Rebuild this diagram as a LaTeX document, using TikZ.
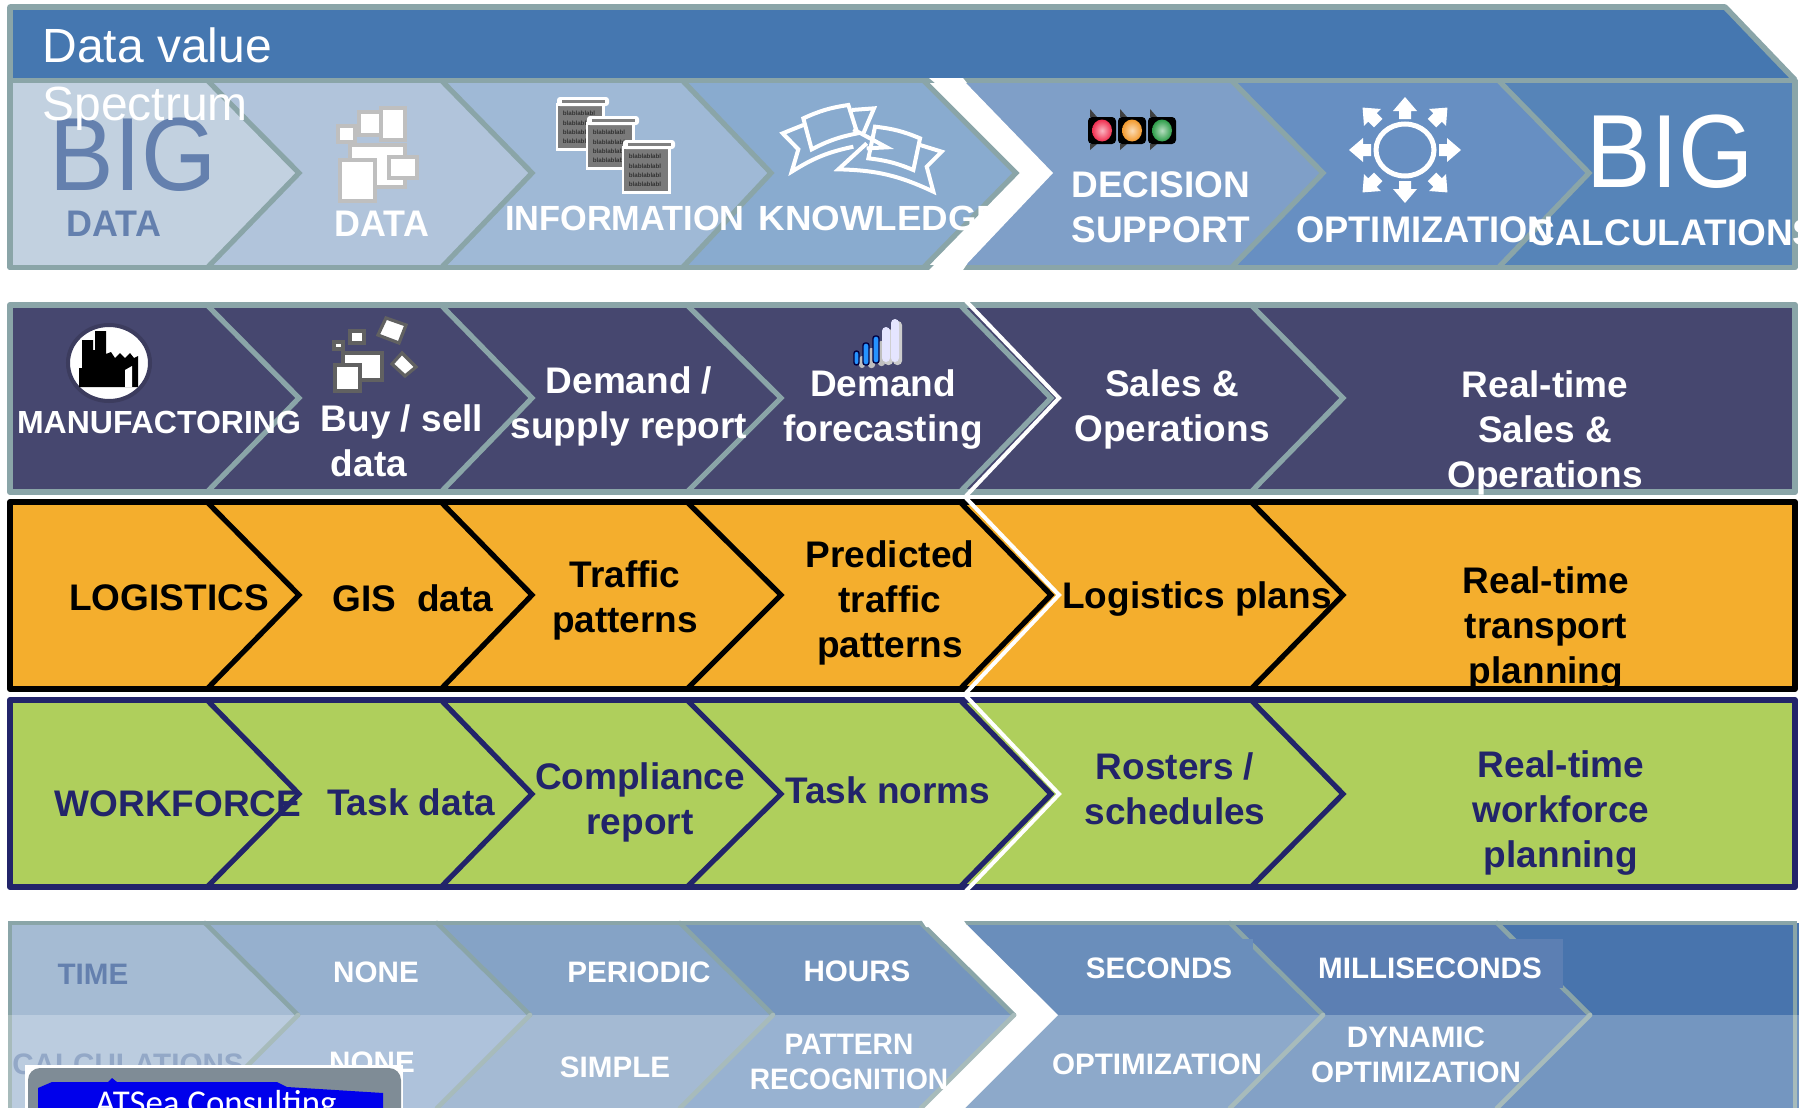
\documentclass[tikz,border=0pt]{standalone}
\usepackage{fontspec}
\setmainfont{Liberation Sans}
\newfontfamily\carlitofont{Carlito}
\definecolor{edgeA}{HTML}{8AA5A8}
\definecolor{edgeB}{HTML}{A7BBBB}
\definecolor{topblue}{HTML}{4577B0}
\definecolor{rA}{HTML}{C2D1E0}\definecolor{rB}{HTML}{B1C4DB}\definecolor{rC}{HTML}{9FB9D6}
\definecolor{rD}{HTML}{89ABCF}\definecolor{rE}{HTML}{7F9FC8}\definecolor{rF}{HTML}{678FC2}\definecolor{rG}{HTML}{5684B8}
\definecolor{uA}{HTML}{A5BBD3}\definecolor{uB}{HTML}{96B0CE}\definecolor{uC}{HTML}{85A3C6}
\definecolor{uD}{HTML}{7495BE}\definecolor{uE}{HTML}{6A8EBB}\definecolor{uF}{HTML}{5C7FB3}\definecolor{uG}{HTML}{4874AD}
\definecolor{lA}{HTML}{BBCCDF}\definecolor{lB}{HTML}{AEC2DB}\definecolor{lC}{HTML}{A4BAD3}
\definecolor{lD}{HTML}{98B2D1}\definecolor{lE}{HTML}{8DA9CA}\definecolor{lF}{HTML}{83A1C6}\definecolor{lG}{HTML}{7496C0}
\definecolor{navy}{HTML}{46476F}
\definecolor{amber}{HTML}{F4AE2D}
\definecolor{leaf}{HTML}{AFCF5C}
\definecolor{ink}{HTML}{22246A}
\definecolor{steel}{HTML}{6480AE}
\definecolor{paleTxt}{HTML}{93A8C7}
\definecolor{logoGrey}{HTML}{7F8C96}
\newcommand\sx[2]{\scalebox{#1}[1]{\begin{tabular}{@{}c@{}}#2\end{tabular}}}
% row: top mid bottom, one colour, border
\newcommand\plainrow[5]{%
  \fill[#4] (10,#1) rectangle (1795,#3);
  \foreach \T/\P in {207/299,441/532,687/781,960/1051,1251/1343}{\draw[line width=2.6pt,#5,line join=miter] (\T,#1) -- (\P,#2) -- (\T,#3);}
  \draw[line width=3pt,#5,line join=round] (10,#1) rectangle (1795,#3);
  \draw[line width=2pt,white] (966,#1-4) -- (1059,#2) -- (966,#3+4);
}
\newcommand\scrollicon[2]{%
  \begin{scope}[shift={(#1,#2)}]
    \fill[white] (-2,4) rectangle (47,52);
    \fill[black!52] (0,7) rectangle (44,49);
    \fill[white,rounded corners=1.5pt] (-1,-2) rectangle (51,7);
    \fill[black!50] (4,1) rectangle (47,4);
    \foreach \i/\yy in {1/14,2/24,3/33,4/42}
      \node[tinytext] (s#1-\i) at (21,\yy) {blablablabl};
  \end{scope}
}
\tikzset{
  lbl/.style={inner sep=0pt,yshift=-2.2pt},
  bq/.style={lbl,font=\bfseries\fontsize{18.5}{22.5}\selectfont},
  bm/.style={lbl,font=\bfseries\fontsize{17.5}{22.5}\selectfont},
  bs/.style={lbl,font=\bfseries\fontsize{14.8}{17.5}\selectfont},
  bigtxt/.style={lbl,font=\fontsize{52}{58}\selectfont},
  tinytext/.style={inner sep=0pt,text=black!80,font=\bfseries\fontsize{3.1}{3.5}\selectfont},
  gicon/.style={fill=white,draw=#1,line width=1.9pt},
  bannerln/.style={draw=white,line width=2pt,line join=miter},
}
\begin{document}
\begin{tikzpicture}[x=0.5pt,y=-0.5pt]
\useasboundingbox (0,0) rectangle (1799,1108);
\fill[white] (0,0) rectangle (1799,1108);
%%% ---------- top band and spectrum row
\fill[topblue] (10,7) -- (1725,7) -- (1795,80) -- (10,80) -- cycle;
\draw[line width=2.8pt,edgeA,line join=round] (10,80) -- (10,7) -- (1725,7) -- (1795,80);
\fill[rG] (10,80) rectangle (1795,268);
\foreach \T/\P/\c in {1498/1589/rF,1231/1323/rE}{\fill[\c] (10,80) -- (\T,80) -- (\P,173) -- (\T,268) -- (10,268) -- cycle;}
\fill[rE] (10,80) -- (966,80) -- (1055,173) -- (966,268) -- (10,268) -- cycle;
\fill[white] (10,80) -- (963,80) -- (1053,173) -- (963,268) -- (10,268) -- cycle;
\foreach \T/\P/\c in {923/1016/rD,682/771/rC,441/532/rB,207/299/rA}{\fill[\c] (10,80) -- (\T,80) -- (\P,173) -- (\T,268) -- (10,268) -- cycle;}
\foreach \T/\P in {207/299,441/532,682/771,923/1016,1231/1323,1498/1589}{\draw[line width=2.6pt,edgeA,line join=miter] (\T,80) -- (\P,173) -- (\T,268);}
\draw[line width=2.8pt,edgeA,line join=round] (10,80.5) rectangle (1795,267.5);
\fill[white] (929,78) -- (963,78) -- (967,83) -- (935,83) -- cycle;
\fill[white] (929,270) -- (963,270) -- (967,264) -- (935,264) -- cycle;
%%% icons, row 1
\draw[gicon=black!25] (381,108) rectangle (405,140);
\draw[gicon=black!25] (359,112) rectangle (381,135);
\draw[gicon=black!25] (338,126) rectangle (355,142);
\draw[gicon=black!25] (350,145) rectangle (405,187);
\draw[gicon=black!25] (389,157) rectangle (417,178);
\draw[gicon=black!25] (340,160) rectangle (375,201);
\scrollicon{558}{99}
\scrollicon{588}{118}
\scrollicon{624}{142}
% knowledge banners
\begin{scope}[shift={(770,90)},x=0.1667pt,y=-0.1667pt]
  \path[bannerln] (100,85) to[bend left=8] (235,45) -- (262,130) to[bend right=8] (125,178) -- cycle;
  \path[bannerln] (100,105) -- (38,130) -- (85,178) -- (65,245) to[bend left=10] (250,170);
  \path[bannerln] (245,60) -- (312,55) -- (280,130);
  \path[bannerln] (315,110) to[bend left=8] (450,145) -- (430,240) to[bend right=8] (295,205) -- cycle;
  \path[bannerln] (250,118) -- (350,172) -- (290,175);
  \path[bannerln] (290,160) -- (205,238) to[bend left=12] (490,305) -- (470,230) -- (515,185) -- (450,165);
\end{scope}
% traffic lights
\foreach \xx/\cc [count=\k] in {1088/F02F50,1118/F39A2D,1148/2E9E4A}{
  \definecolor{lampc}{HTML}{\cc}
  \fill[black!75] (\xx+2,117) -- (\xx+2,109) -- (\xx+9,117) -- cycle;
  \fill[black!75] (\xx+2,144) -- (\xx+2,150) -- (\xx+9,144) -- cycle;
  \fill[black,rounded corners=2pt] (\xx,117) rectangle (\xx+28,144);
  \shade[inner color=lampc!35!white,outer color=lampc] (\xx+14,130.5) ellipse [x radius=10,y radius=11];
}
% gear
\draw[white,line width=2.5pt] (1405,150) ellipse [x radius=29,y radius=26];
\foreach \a/\r in {0/56,90/53,180/56,270/53,45/60,135/60,225/60,315/60}{
  \begin{scope}[shift={(1405,150)},rotate=\a]
    \fill[white] (\r,0) -- (\r-14,12) -- (\r-14,6) -- (\r-22,6) -- (\r-22,-6) -- (\r-14,-6) -- (\r-14,-12) -- cycle;
  \end{scope}
}
%%% ---------- plain rows
\plainrow{305}{398}{492}{navy}{edgeA}
\plainrow{502}{595}{689}{amber}{black}
\plainrow{700}{794}{887}{leaf}{ink}
% factory
\fill[white,draw=black!15!navy,line width=2pt] (109,363) ellipse [x radius=41,y radius=38];
\fill[black] (79,387) -- (79,368) -- (82,368) -- (82,340) -- (93,340) -- (93,350) -- (95,350) -- (95,331) -- (106,331) -- (106,354)
  -- (111,352) -- (115,358) -- (120,353) -- (125,358) -- (130,353) -- (134,358) -- (138,356) -- (138,387) -- cycle;
\fill[white] (125,370) -- (132,366) -- (132,387) -- (125,387) -- cycle;
% buy/sell icon
\begin{scope}[every path/.style={fill=white,draw=black!62,line width=1.6pt}]
  \path (334,342) rectangle (343,349);
  \path (350,331) rectangle (364,343);
  \path (386,318) -- (406,325) -- (399,343) -- (378,335) -- cycle;
  \path (402,353) -- (416,367) -- (405,376) -- (392,364) -- cycle;
  \path (343,353) rectangle (382,380);
  \path (335,365) rectangle (360,391);
\end{scope}
% signal bars
\foreach \xa/\xb/\ya/\yb in {854/859/351/365,863/869/343/365,873/879/336/363}{
  \fill[black!25,rounded corners=1.5pt] (\xa+5,\ya+5) rectangle (\xb+6,\yb+3);
  \draw[fill=blue!50!cyan!85!white,draw=black!75!blue,line width=.7pt,rounded corners=1.2pt] (\xa,\ya) rectangle (\xb,\yb);
}
\foreach \xa/\xb/\ya/\yb in {882/890/327/362,891/899/319/362}{
  \fill[black!20!white,rounded corners=2pt] (\xa+2,\ya+2) rectangle (\xb+3,\yb+3);
  \fill[blue!10!white,rounded corners=2pt] (\xa,\ya) rectangle (\xb,\yb);
}
%%% ---------- bottom block
\foreach \T/\up/\lo in {1800/uG/lG,1497/uF/lF,1230/uE/lE,965/white/white,921/uD/lD,680/uC/lC,437/uB/lB,205/uA/lA}{
  \fill[\up] (10,923) -- (\T,923) -- (\T+93,1015) -- (10,1015) -- cycle;
  \fill[\lo] (10,1015) -- (\T+93,1015) -- (\T,1108) -- (10,1108) -- cycle;
}
\fill[uG] (1590,923) rectangle (1795,1015);
\fill[lG] (1590,1015) rectangle (1795,1108);
\foreach \T in {205,437,680,921,1230,1497}{
  \draw[line width=2.3pt,edgeA,line join=miter,line cap=round] (\T,923) -- (\T+93,1015);
  \draw[line width=2.3pt,edgeB,line cap=round] (\T+93,1015) -- (\T,1108);
}
\fill[uE] (1235,939) rectangle (1253,970);
\fill[uF] (1480,939) rectangle (1563,988);
\draw[line width=2.3pt,edgeA] (10,1015) -- (10,923) -- (1795,923) -- (1795,1015);
\draw[line width=2.3pt,edgeB] (10,1015) -- (10,1108);
\draw[line width=2.3pt,edgeB] (1795,1015) -- (1795,1108);
\fill[white] (922,921) -- (964,921) -- (968,927) -- (926,927) -- cycle;
%%% ---------- texts
\node[bigtxt,text=steel] (bigL) at (133,163) {\sx{.93}{BIG}};
\node[bigtxt,text=white] (bigR) at (1670,160) {\sx{.93}{BIG}};
\node[bq,text=steel] (dataA) at (114,223) {\sx{.97}{DATA}};
\node[bq,text=white] (dataB) at (382,223) {\sx{.97}{DATA}};
\node[bm,text=white] (info) at (625,217) {\sx{.98}{INFORMATION}};
\node[bm,text=white] (know) at (880,217) {\sx{1.05}{KNOWLEDGE}};
\node[bq,text=white] (decis) at (1161,207) {\sx{1}{DECISION\\SUPPORT}};
\node[bq,text=white] (optim) at (1425,229) {\sx{.98}{OPTIMIZATION}};
\node[bq,text=white] (calc) at (1673,232) {\sx{1}{CALCULATIONS}};
% manufacturing row
\node[lbl,text=white,font=\bfseries\fontsize{16}{20}\selectfont] (manu) at (159,421) {\sx{1}{MANUFACTORING}};
\node[bq,text=white] (buy) at (402,418) {\sx{1}{Buy / sell}};
\node[bq,text=white] (buyb) at (369,463) {\sx{1}{data}};
\node[bq,text=white] (dem) at (629,403) {\sx{1}{Demand /\\supply report}};
\node[bq,text=white] (fore) at (883,406) {\sx{1}{Demand\\forecasting}};
\node[bq,text=white] (sales) at (1172,406) {\sx{1}{Sales \&\\Operations}};
\node[bq,text=white] (rtsales) at (1545,429) {\sx{1}{Real-time\\Sales \&\\Operations}};
% logistics row
\node[bq,text=black] (logi) at (169,597) {\sx{1}{LOGISTICS}};
\node[bq,text=black] (gis) at (413,598) {\sx{1}{GIS \ data}};
\node[bq,text=black] (traf) at (625,597) {\sx{1}{Traffic\\patterns}};
\node[bq,text=black] (pred) at (890,599) {\sx{1}{Predicted\\traffic\\patterns}};
\node[bq,text=black] (lplans) at (1197,595) {\sx{1}{Logistics plans}};
\node[bq,text=black] (rttrans) at (1546,625) {\sx{1}{Real-time\\transport\\planning}};
% workforce row
\node[bq,text=ink] (work) at (178,803) {\sx{1}{WORKFORCE}};
\node[bq,text=ink] (task) at (411,802) {\sx{1}{Task data}};
\node[bq,text=ink] (comp) at (640,799) {\sx{1}{Compliance\\report}};
\node[bq,text=ink] (norms) at (888,790) {\sx{1}{Task norms}};
\node[bq,text=ink] (rost) at (1175,789) {\sx{1}{Rosters /\\schedules}};
\node[bq,text=ink] (rtwork) at (1561,809) {\sx{1}{Real-time\\workforce\\planning}};
% bottom texts
\node[bs,text=steel] (time) at (93,973) {\sx{1}{TIME}};
\node[bs,text=white] (none) at (376,971) {\sx{1}{NONE}};
\node[bs,text=white] (peri) at (639,971) {\sx{1}{PERIODIC}};
\node[bs,text=white] (hours) at (857,970) {\sx{1}{HOURS}};
\node[bs,text=white] (secs) at (1159,967) {\sx{1}{SECONDS}};
\node[bs,text=white] (ms) at (1430,967) {\sx{1}{MILLISECONDS}};
\node[bs,text=paleTxt] (calcb) at (128,1063) {\sx{1}{CALCULATIONS}};
\node[bs,text=white] (noneb) at (372,1061) {\sx{1}{NONE}};
\node[bs,text=white] (simple) at (615,1066) {\sx{1}{SIMPLE}};
\node[bs,text=white] (patt) at (849,1061) {\sx{.95}{PATTERN\\RECOGNITION}};
\node[bs,text=white] (optb) at (1157,1063) {\sx{1}{OPTIMIZATION}};
\node[bs,text=white] (dyn) at (1416,1054) {\sx{1}{DYNAMIC\\OPTIMIZATION}};
% logo box
\fill[white] (25,1065) rectangle (403,1112);
\fill[logoGrey,rounded corners=6pt] (28,1068) rectangle (401,1125);
\fill[blue!92!black] (38,1088) -- (52,1082) -- (108,1082) -- (112,1078) -- (117,1082) -- (277,1082) -- (287,1087) -- (383,1093) -- (383,1112) -- (38,1112) -- cycle;
\node[inner sep=0pt,text=white,font=\carlitofont\fontsize{17.4}{20}\selectfont] (atsea) at (216,1105) {ATSea Consulting};
% title
\node[lbl,anchor=west,text=white,font=\fontsize{24}{29}\selectfont] (title) at (42,75) {\begin{tabular}{@{}l@{}}Data value\\Spectrum\end{tabular}};
\end{tikzpicture}
\end{document}
